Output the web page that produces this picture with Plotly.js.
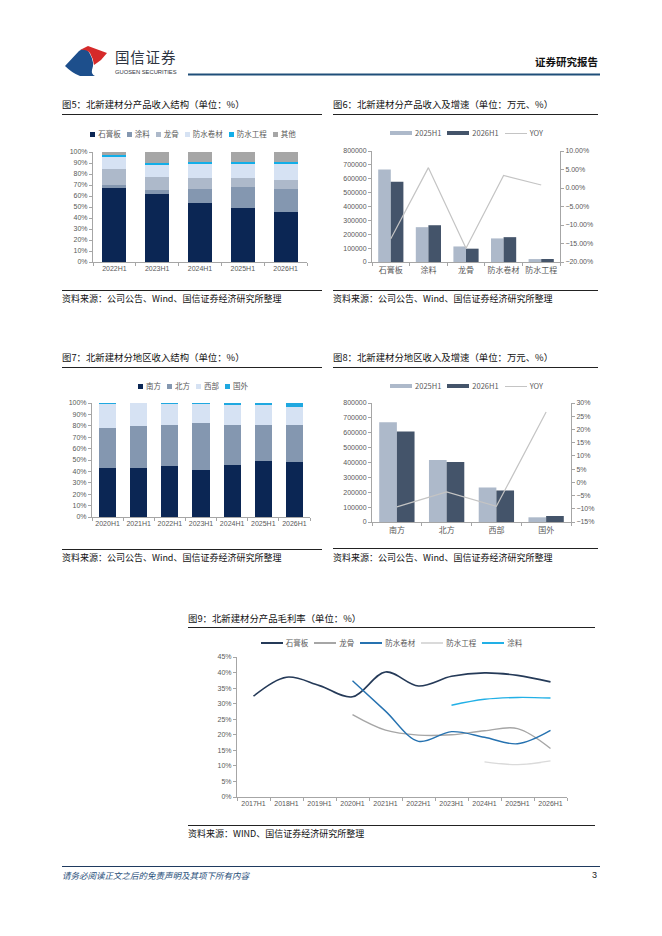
<!DOCTYPE html>
<html>
<head>
<meta charset="utf-8">
<script src="https://cdn.plot.ly/plotly-3.0.1.min.js"></script>
<style>
  body { margin: 0; background: #fff; }
  #page { position: relative; width: 662px; height: 936px; overflow: hidden; background: #fff;
          font-family: "Noto Sans CJK SC", "Noto Sans", sans-serif; }
  .ttl { position: absolute; font-size: 9.4px; color: #111; white-space: nowrap; line-height: 12px; }
  .src { font-size: 9px; }
  .rule { position: absolute; height: 1px; background: #222; }
  .lg { position: absolute; display: flex; justify-content: center; align-items: center;
        font-size: 7.5px; color: #595959; white-space: nowrap; line-height: 10px; }
  .lg span.it { display: flex; align-items: center; margin: 0 3px; }
  .lg i { display: inline-block; margin-right: 3px; }
  .chart { position: absolute; }
</style>
</head>
<body>
<div id="page">
  <!-- header -->
  <svg style="position:absolute;left:0;top:0" width="662" height="90">
    <path d="M65,66 L79,51 Q86,46 90,54 Q95,63 92,70 Q91,74 95,76 L80,76 Q72,73 65,66 Z" fill="#1d4f8c"/>
    <path d="M80,50 L88,46 L107,53 L101,60 Q97,63 94,65 Q93,58 90,53 Q86,49 80,50 Z" fill="#d62a2a"/>
    <line x1="188" y1="74.5" x2="600" y2="74.5" stroke="#1f4e79" stroke-width="2"/>
  </svg>
  <div class="ttl" style="left:115px;top:49px;font-size:14.5px;line-height:16px;color:#2e3440;letter-spacing:0.8px">国信证券</div>
  <div class="ttl" style="left:115px;top:69px;font-size:5.8px;line-height:6px;color:#2e3440;font-family:'Liberation Sans',sans-serif">GUOSEN SECURITIES</div>
  <div class="ttl" style="right:64px;top:56px;font-size:10.5px;font-weight:bold;color:#111">证券研究报告</div>

  <!-- figure 5 -->
  <div class="ttl" style="left:62px;top:98px">图5：北新建材分产品收入结构（单位：%）</div>
  <div class="rule" style="left:62px;top:114px;width:260px"></div>
  <div class="lg" id="lg5" style="left:62px;top:129px;width:262px"></div>
  <div class="chart" id="c5" style="left:62px;top:120px;width:262px;height:170px"></div>
  <div class="rule" style="left:62px;top:290px;width:260px"></div>
  <div class="ttl src" style="left:62px;top:293px">资料来源：公司公告、Wind、国信证券经济研究所整理</div>

  <!-- figure 6 -->
  <div class="ttl" style="left:333px;top:98px">图6：北新建材分产品收入及增速（单位：万元、%）</div>
  <div class="rule" style="left:333px;top:114px;width:265px"></div>
  <div class="lg" id="lg6" style="left:333px;top:128px;width:267px"></div>
  <div class="chart" id="c6" style="left:333px;top:120px;width:267px;height:170px"></div>
  <div class="rule" style="left:333px;top:290px;width:265px"></div>
  <div class="ttl src" style="left:333px;top:293px">资料来源：公司公告、Wind、国信证券经济研究所整理</div>

  <!-- figure 7 -->
  <div class="ttl" style="left:62px;top:351px">图7：北新建材分地区收入结构（单位：%）</div>
  <div class="rule" style="left:62px;top:367px;width:260px"></div>
  <div class="lg" id="lg7" style="left:62px;top:381px;width:262px"></div>
  <div class="chart" id="c7" style="left:62px;top:370px;width:262px;height:176px"></div>
  <div class="rule" style="left:62px;top:549px;width:260px"></div>
  <div class="ttl src" style="left:62px;top:552px">资料来源：公司公告、Wind、国信证券经济研究所整理</div>

  <!-- figure 8 -->
  <div class="ttl" style="left:333px;top:351px">图8：北新建材分地区收入及增速（单位：万元、%）</div>
  <div class="rule" style="left:333px;top:367px;width:265px"></div>
  <div class="lg" id="lg8" style="left:333px;top:381px;width:267px"></div>
  <div class="chart" id="c8" style="left:333px;top:370px;width:267px;height:176px"></div>
  <div class="rule" style="left:333px;top:548px;width:265px"></div>
  <div class="ttl src" style="left:333px;top:552px">资料来源：公司公告、Wind、国信证券经济研究所整理</div>

  <!-- figure 9 -->
  <div class="ttl" style="left:188px;top:612px">图9：北新建材分产品毛利率（单位：%）</div>
  <div class="rule" style="left:188px;top:627px;width:407px"></div>
  <div class="lg" id="lg9" style="left:188px;top:638px;width:407px"></div>
  <div class="chart" id="c9" style="left:188px;top:630px;width:407px;height:190px"></div>
  <div class="rule" style="left:188px;top:825px;width:407px"></div>
  <div class="ttl src" style="left:188px;top:828px">资料来源：WIND、国信证券经济研究所整理</div>

  <!-- footer -->
  <div class="rule" style="left:62px;top:866px;width:538px;background:#1f3a5f"></div>
  <div class="ttl" style="left:62px;top:869px;font-size:8.5px;font-style:italic;color:#1f4e79">请务必阅读正文之后的免责声明及其项下所有内容</div>
  <div class="ttl" style="left:592px;top:869px;font-size:9px;color:#222;font-family:'Liberation Sans',sans-serif">3</div>
</div>

<script>
// figure 5: revenue structure by product (%)
const years5 = ['2022H1', '2023H1', '2024H1', '2025H1', '2026H1'];
const gypsum5 = [67.6, 61.5, 53.6, 49.1, 45.5];
const coating5 = [2.1, 4.0, 12.8, 18.8, 20.9];
const keel5 = [14.5, 11.5, 9.6, 8.5, 7.8];
const membrane5 = [11.0, 10.9, 13.0, 12.7, 14.6];
const wpEng5 = [2.4, 2.1, 1.9, 2.1, 1.8];
const other5 = [2.4, 10.0, 9.1, 8.8, 9.4];
const names5 = ['石膏板', '涂料', '龙骨', '防水卷材', '防水工程', '其他'];

// figure 6: revenue by product (10k yuan) and yoy (%)
const products6 = ['石膏板', '涂料', '龙骨', '防水卷材', '防水工程'];
const rev25_6 = [667000, 251000, 112000, 170000, 21000];
const rev26_6 = [578000, 265000, 96000, 179000, 21500];
const yoy6 = [-13.7, 5.5, -16.3, 3.4, 0.8];

// figure 7: revenue structure by region (%)
const years7 = ['2020H1', '2021H1', '2022H1', '2023H1', '2024H1', '2025H1', '2026H1'];
const south7 = [42.6, 42.6, 45.0, 40.9, 45.3, 49.4, 48.2];
const north7 = [35.9, 37.1, 35.6, 41.2, 35.3, 31.2, 32.1];
const west7 = [20.9, 20.0, 18.8, 16.7, 17.9, 17.3, 16.5];
const overseas7 = [0.6, 0.3, 0.6, 1.2, 1.5, 2.1, 3.2];
const names7 = ['南方', '北方', '西部', '国外'];

// figure 8: revenue by region (10k yuan) and yoy (%)
const regions8 = ['南方', '北方', '西部', '国外'];
const rev25_8 = [671000, 417000, 232000, 31500];
const rev26_8 = [608000, 403000, 212000, 40500];
const yoy8 = [-9.3, -3.6, -9.1, 26.6];

// figure 9: gross margin by product (%)
const years9 = ['2017H1', '2018H1', '2019H1', '2020H1', '2021H1', '2022H1', '2023H1', '2024H1', '2025H1', '2026H1'];
const gmGypsum = [32.4, 38.5, 35.8, 32.2, 40.2, 35.7, 38.8, 39.9, 39.1, 37.0];
const gmKeel = [null, null, null, 26.5, 21.5, 19.9, 20.0, 21.3, 22.0, 15.6];
const gmMembrane = [null, null, null, 37.4, 27.6, 17.9, 21.0, 19.2, 17.1, 21.4];
const gmWpEng = [null, null, null, null, null, null, null, 11.3, 10.4, 11.6];
const gmCoating = [null, null, null, null, null, null, 29.5, 31.4, 32.0, 31.8];
const names9 = ['石膏板', '龙骨', '防水卷材', '防水工程', '涂料'];

const NAVY = '#0b2654';
const cols5 = [NAVY, '#8497b0', '#adb9ca', '#d6e2f3', '#12aee8', '#a6a6a6'];
const cols7 = [NAVY, '#8497b0', '#d6e2f3', '#1fa8e0'];
const BAR25 = '#adb9ca', BAR26 = '#44546a', YOY = '#c4c4c4';
const cols9 = ['#253a58', '#a6a6a6', '#2672b0', '#dadada', '#22b0e6'];

const tickFont = { family: 'Liberation Sans, Arial, sans-serif', size: 7, color: '#595959' };
const cnFont = { family: 'Noto Sans CJK SC, sans-serif', size: 8, color: '#595959' };
const AX = '#a6a6a6';
const config = { staticPlot: true, displayModeBar: false };

function baseX(font) {
  return { type: 'category', showgrid: false, zeroline: false, showline: true, linecolor: AX,
           linewidth: 1, ticks: 'outside', tickson: 'boundaries', ticklen: 3, tickcolor: AX,
           tickangle: 0, tickfont: font || tickFont, fixedrange: true };
}
function baseY(extra) {
  return Object.assign({ showgrid: false, zeroline: false, showline: true, linecolor: AX,
           linewidth: 1, ticks: 'outside', ticklen: 3, tickcolor: AX, tickfont: tickFont,
           fixedrange: true }, extra);
}

function legend(id, names, colors, kind) {
  const el = document.getElementById(id);
  names.forEach((n, i) => {
    const it = document.createElement('span');
    it.className = 'it';
    const sw = document.createElement('i');
    const k = Array.isArray(kind) ? kind[i] : kind;
    if (k === 'sq') { sw.style.width = '5px'; sw.style.height = '5px'; }
    else if (k === 'bar') { sw.style.width = '22px'; sw.style.height = '4px'; }
    else { sw.style.width = '22px'; sw.style.height = k === 'thin' ? '1px' : '2px'; }
    sw.style.background = colors[i];
    it.appendChild(sw);
    it.appendChild(document.createTextNode(n));
    el.appendChild(it);
  });
}

// figure 5
const series5 = [gypsum5, coating5, keel5, membrane5, wpEng5, other5];
Plotly.newPlot('c5', series5.map((v, i) => ({
  type: 'bar', x: years5, y: v, name: names5[i], marker: { color: cols5[i] }, hoverinfo: 'skip'
})), {
  width: 262, height: 170, margin: { l: 31, r: 17, t: 32, b: 28 },
  barmode: 'stack', bargap: 0.44, showlegend: false,
  paper_bgcolor: 'rgba(0,0,0,0)', plot_bgcolor: 'rgba(0,0,0,0)',
  xaxis: baseX(),
  yaxis: baseY({ range: [0, 100], dtick: 10, ticksuffix: '%' })
}, config);
legend('lg5', names5, cols5, 'sq');

// figure 6
Plotly.newPlot('c6', [
  { type: 'bar', x: products6, y: rev25_6, name: '2025H1', marker: { color: BAR25 }, hoverinfo: 'skip' },
  { type: 'bar', x: products6, y: rev26_6, name: '2026H1', marker: { color: BAR26 }, hoverinfo: 'skip' },
  { type: 'scatter', mode: 'lines', x: products6, y: yoy6, name: 'YOY', yaxis: 'y2',
    line: { color: YOY, width: 1.2 }, hoverinfo: 'skip' }
], {
  width: 267, height: 170, margin: { l: 39, r: 40, t: 31, b: 28 },
  barmode: 'group', bargap: 0.33, bargroupgap: 0, showlegend: false,
  paper_bgcolor: 'rgba(0,0,0,0)', plot_bgcolor: 'rgba(0,0,0,0)',
  xaxis: baseX(cnFont),
  yaxis: baseY({ range: [0, 800000], dtick: 100000, tickformat: 'd' }),
  yaxis2: baseY({ overlaying: 'y', side: 'right', range: [-20, 10], dtick: 5,
                  tickformat: '.2f', ticksuffix: '%' })
}, config);
legend('lg6', ['2025H1', '2026H1', 'YOY'], [BAR25, BAR26, YOY], ['bar', 'bar', 'thin']);

// figure 7
const series7 = [south7, north7, west7, overseas7];
Plotly.newPlot('c7', series7.map((v, i) => ({
  type: 'bar', x: years7, y: v, name: names7[i], marker: { color: cols7[i] }, hoverinfo: 'skip'
})), {
  width: 262, height: 176, margin: { l: 30, r: 14, t: 33, b: 29 },
  barmode: 'stack', bargap: 0.45, showlegend: false,
  paper_bgcolor: 'rgba(0,0,0,0)', plot_bgcolor: 'rgba(0,0,0,0)',
  xaxis: baseX(),
  yaxis: baseY({ range: [0, 100], dtick: 10, ticksuffix: '%' })
}, config);
legend('lg7', names7, cols7, 'sq');

// figure 8
Plotly.newPlot('c8', [
  { type: 'bar', x: regions8, y: rev25_8, name: '2025H1', marker: { color: BAR25 }, hoverinfo: 'skip' },
  { type: 'bar', x: regions8, y: rev26_8, name: '2026H1', marker: { color: BAR26 }, hoverinfo: 'skip' },
  { type: 'scatter', mode: 'lines', x: regions8, y: yoy8, name: 'YOY', yaxis: 'y2',
    line: { color: YOY, width: 1.2 }, hoverinfo: 'skip' }
], {
  width: 267, height: 176, margin: { l: 39, r: 29, t: 33, b: 24 },
  barmode: 'group', bargap: 0.29, bargroupgap: 0, showlegend: false,
  paper_bgcolor: 'rgba(0,0,0,0)', plot_bgcolor: 'rgba(0,0,0,0)',
  xaxis: baseX(cnFont),
  yaxis: baseY({ range: [0, 800000], dtick: 100000, tickformat: 'd' }),
  yaxis2: baseY({ overlaying: 'y', side: 'right', range: [-15, 30], dtick: 5, ticksuffix: '%' })
}, config);
legend('lg8', ['2025H1', '2026H1', 'YOY'], [BAR25, BAR26, YOY], ['bar', 'bar', 'thin']);

// figure 9
const series9 = [gmGypsum, gmKeel, gmMembrane, gmWpEng, gmCoating];
Plotly.newPlot('c9', series9.map((v, i) => ({
  type: 'scatter', mode: 'lines', x: years9, y: v, name: names9[i], connectgaps: false,
  line: { color: cols9[i], width: i === 0 ? 1.6 : 1.4, shape: 'spline', smoothing: 1 }, hoverinfo: 'skip'
})), {
  width: 407, height: 190, margin: { l: 49, r: 28, t: 27, b: 23 },
  showlegend: false,
  paper_bgcolor: 'rgba(0,0,0,0)', plot_bgcolor: 'rgba(0,0,0,0)',
  xaxis: Object.assign(baseX(), { range: [-0.5, years9.length - 0.5] }),
  yaxis: baseY({ range: [0, 45], dtick: 5, ticksuffix: '%' })
}, config);
legend('lg9', names9, cols9, 'line');
</script>
</body>
</html>
